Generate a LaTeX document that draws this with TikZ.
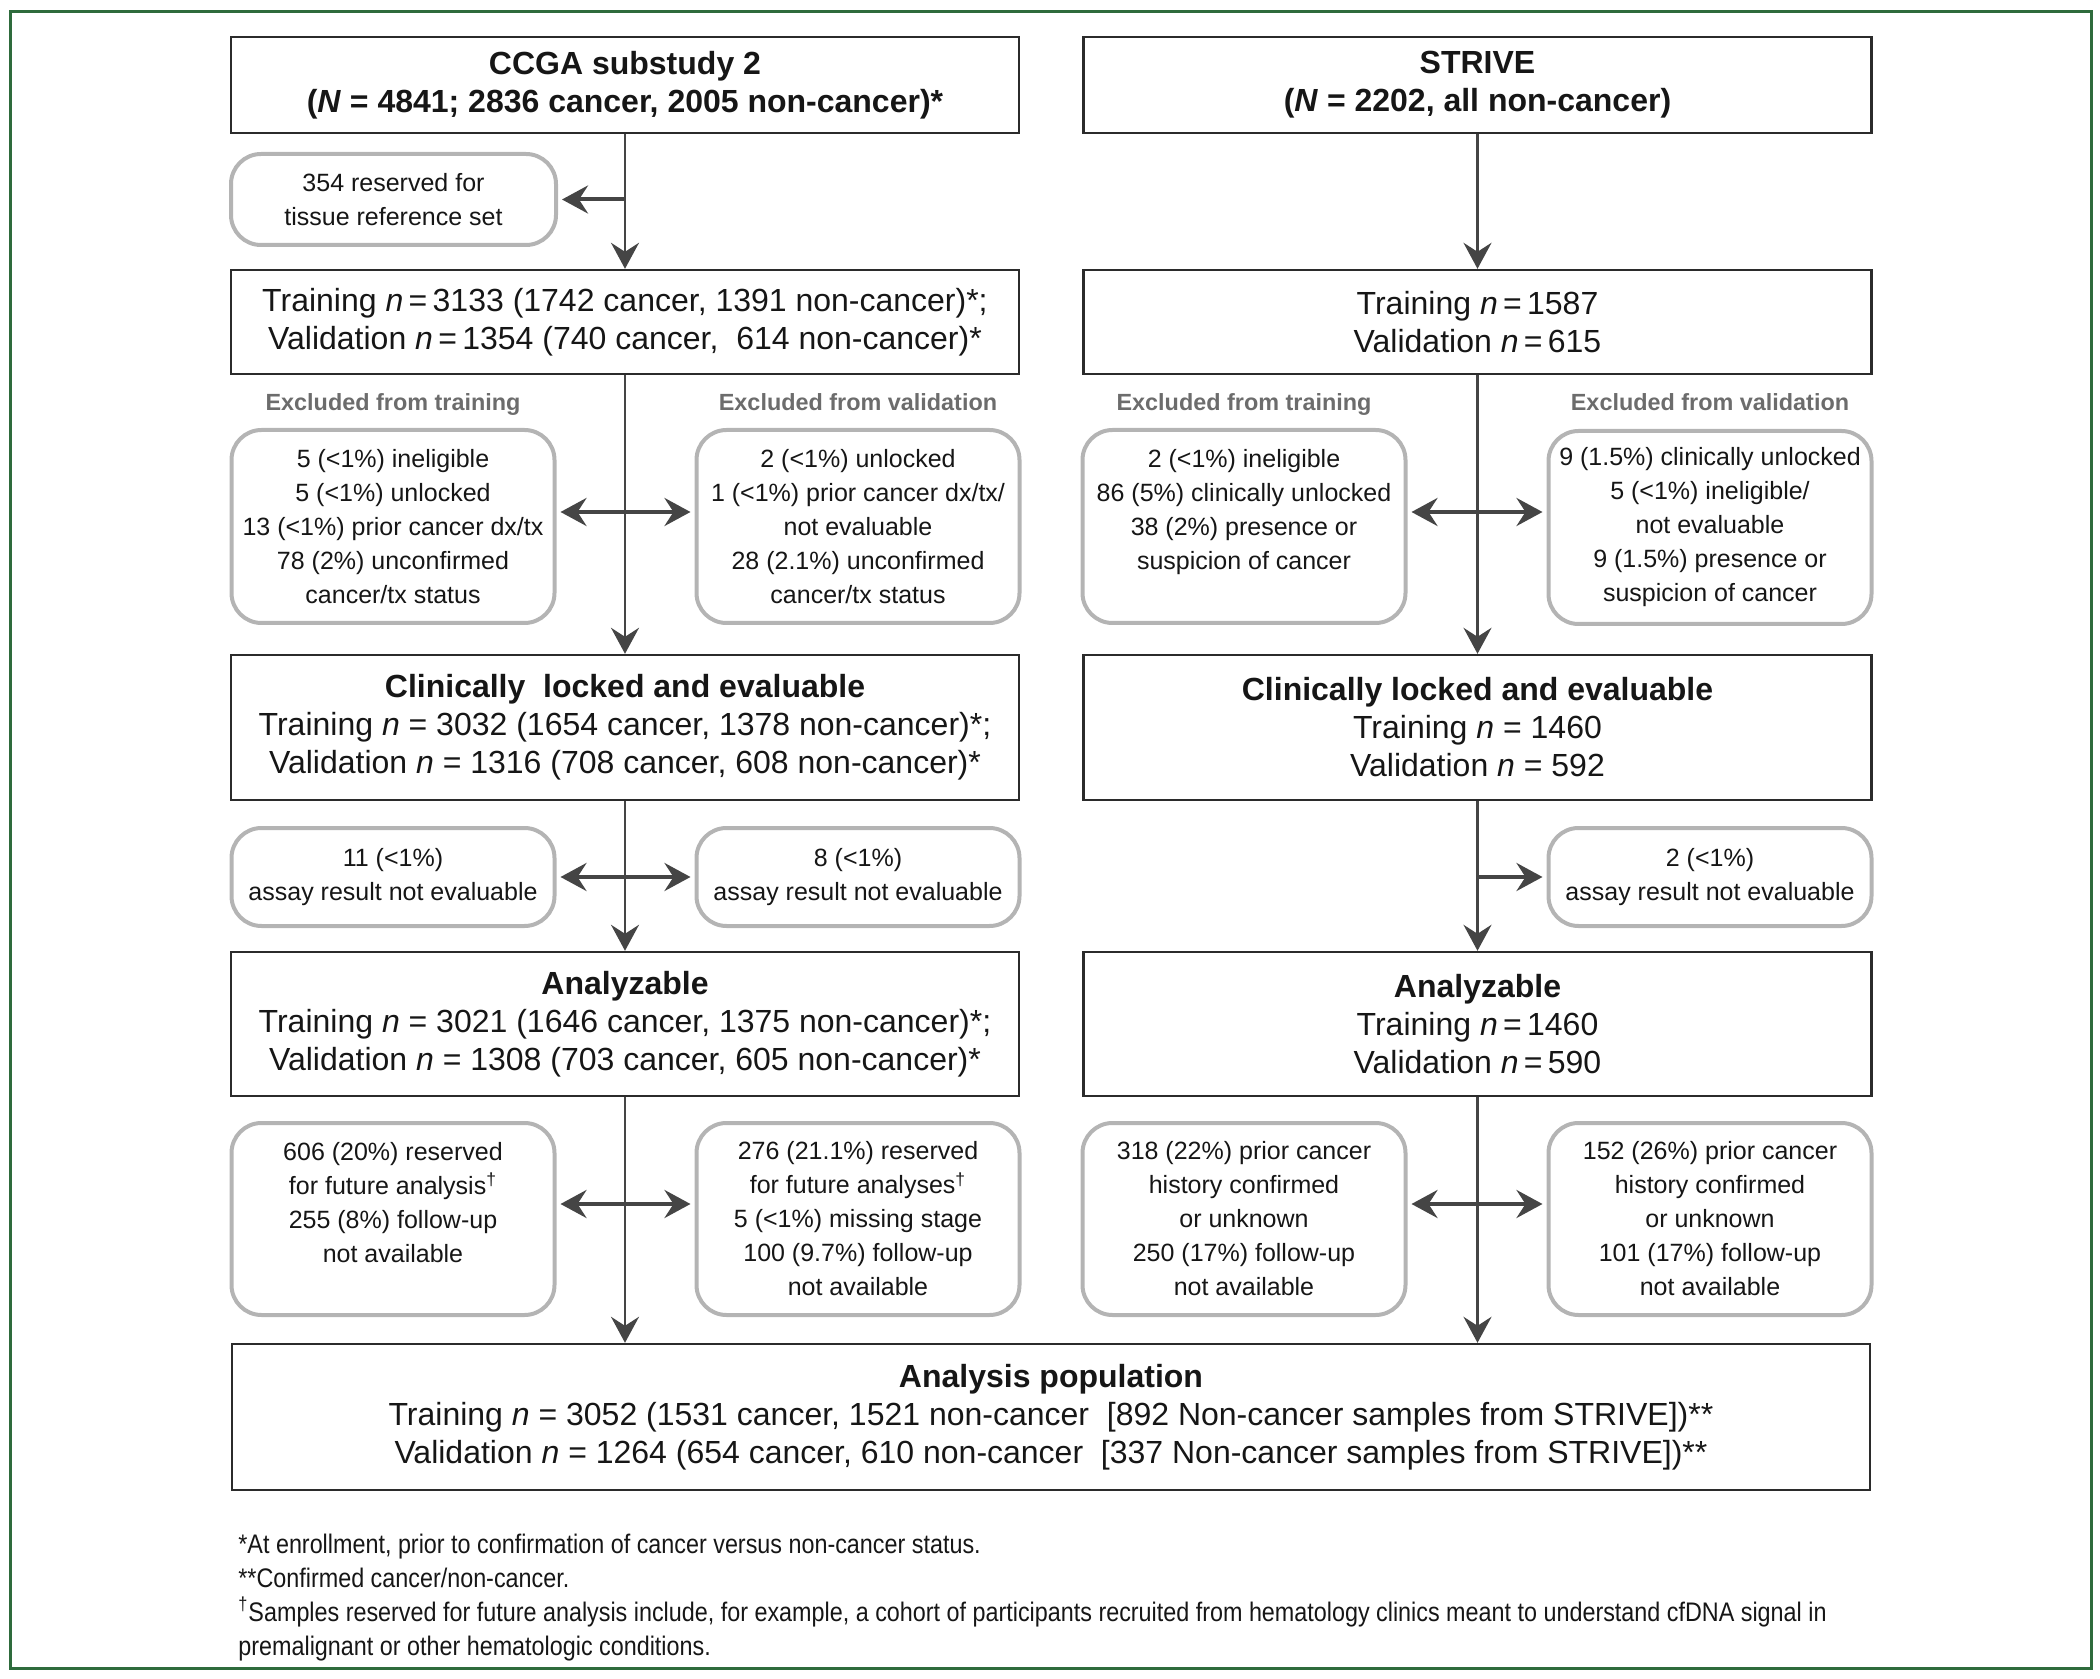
\documentclass[tikz,border=0pt]{standalone}
\usepackage{fontspec}
\setmainfont{Liberation Sans}
\newfontfamily\condfont{Liberation Sans}[FakeStretch=0.87]
\usetikzlibrary{arrows.meta}
\definecolor{boxc}{HTML}{2B2B2B}
\definecolor{arrc}{HTML}{454545}
\definecolor{exc}{HTML}{B4B4B4}
\definecolor{hdrc}{HTML}{6C6C6C}
\definecolor{framec}{HTML}{2E6B3C}
\definecolor{textc}{HTML}{161616}
\begin{document}
\begin{tikzpicture}[x=0.5pt,y=-0.5pt,
  mainbox/.style={draw=boxc, line width=1.2pt, fill=white, text=textc, align=center, inner sep=0pt, minimum width=394pt, font=\fontsize{16}{19}\selectfont},
  exbox/.style={draw=exc, line width=2pt, rounded corners=15pt, fill=white, text=textc, align=center, inner sep=0pt, minimum width=161.5pt, font=\fontsize{12.5}{17}\selectfont},
  hdr/.style={anchor=base, text=hdrc, font=\bfseries\fontsize{11.7}{14}\selectfont, inner sep=0pt},
  foot/.style={anchor=base west, text=textc, font=\condfont\fontsize{13.42}{17}\selectfont, inner sep=0pt},
  tipa/.tip={Stealth[length=13pt,width=14pt,inset=4.5pt]},
  vline/.style={draw=arrc, line width=1.3pt, -tipa},
  harr/.style={draw=arrc, line width=2pt, shorten >=2pt, -tipa},
  darr/.style={draw=arrc, line width=2pt, shorten >=2pt, shorten <=2pt, tipa-tipa},
]
\useasboundingbox (0,0) rectangle (2100,1679);
\draw[framec, line width=1.5pt] (10,12) rectangle (2091,1668);

% main boxes
\node[mainbox, minimum height=48pt] (ccga) at (625,85) {\textbf{CCGA substudy 2}\\ \textbf{(\textit{N} = 4841; 2836 cancer, 2005 non-cancer)*}};
\node[mainbox, minimum height=48pt] (strive) at (1477.5,85) {\textbf{STRIVE}\\ \textbf{(\textit{N} = 2202, all non-cancer)}};
\node[mainbox, minimum height=52pt] (ctrain) at (625,322) {Training \textit{n}\,=\,3133 (1742 cancer, 1391 non-cancer)*;\\ Validation \textit{n}\,=\,1354 (740 cancer,~ 614 non-cancer)*};
\node[mainbox, minimum height=52pt] (strain) at (1477.5,322) {Training \textit{n}\,=\,1587\\ Validation \textit{n}\,=\,615};
\node[mainbox, minimum height=72.5pt] (cclin) at (625,727.5) {\textbf{Clinically~ locked and evaluable}\\ Training \textit{n} = 3032 (1654 cancer, 1378 non-cancer)*;\\ Validation \textit{n} = 1316 (708 cancer, 608 non-cancer)*};
\node[mainbox, minimum height=72.5pt] (sclin) at (1477.5,727.5) {\textbf{Clinically locked and evaluable}\\ Training \textit{n} = 1460\\ Validation \textit{n} = 592};
\node[mainbox, minimum height=72pt] (cana) at (625,1024) {\textbf{Analyzable}\\ Training \textit{n} = 3021 (1646 cancer, 1375 non-cancer)*;\\ Validation \textit{n} = 1308 (703 cancer, 605 non-cancer)*};
\node[mainbox, minimum height=72pt] (sana) at (1477.5,1024) {\textbf{Analyzable}\\ Training \textit{n}\,=\,1460\\ Validation \textit{n}\,=\,590};
\node[mainbox, minimum height=73pt, minimum width=819pt] (final) at (1051,1417) {\textbf{Analysis population}\\ Training \textit{n} = 3052 (1531 cancer, 1521 non-cancer~ [892 Non-cancer samples from STRIVE])**\\ Validation \textit{n} = 1264 (654 cancer, 610 non-cancer~ [337 Non-cancer samples from STRIVE])**};

% exclusion boxes
\node[exbox, minimum width=162.5pt, minimum height=45.5pt] (reserved) at (393.5,199.5) {354 reserved for\\ tissue reference set};

\node[hdr] (h1) at (393,411) {Excluded from training};
\node[hdr] (h2) at (858,411) {Excluded from validation};
\node[hdr] (h3) at (1244,411) {Excluded from training};
\node[hdr] (h4) at (1710,411) {Excluded from validation};

\node[exbox, minimum height=96.5pt] (c1l) at (393,526.5) {5 (<1\%) ineligible\\ 5 (<1\%) unlocked\\ 13 (<1\%) prior cancer dx/tx\\ 78 (2\%) unconfirmed\\ cancer/tx status};
\node[exbox, minimum height=96.5pt] (c1r) at (858,526.5) {2 (<1\%) unlocked\\ 1 (<1\%) prior cancer dx/tx/\\ not evaluable\\ 28 (2.1\%) unconfirmed\\ cancer/tx status};
\node[exbox, minimum height=96.5pt] (s1l) at (1244,526.5) {2 (<1\%) ineligible\\ 86 (5\%) clinically unlocked\\ 38 (2\%) presence or\\ suspicion of cancer\\ \mbox{}};
\node[exbox, minimum height=96.5pt] (s1r) at (1710,527.5) {9 (1.5\%) clinically unlocked\\ 5 (<1\%) ineligible/\\ not evaluable\\ 9 (1.5\%) presence or\\ suspicion of cancer};

\node[exbox, minimum height=49pt] (c2l) at (393,877) {11 (<1\%)\\ assay result not evaluable};
\node[exbox, minimum height=49pt] (c2r) at (858,877) {8 (<1\%)\\ assay result not evaluable};
\node[exbox, minimum height=49pt] (s2r) at (1710,877) {2 (<1\%)\\ assay result not evaluable};

\node[exbox, minimum height=96pt] (c3l) at (393,1219) {606 (20\%) reserved\\ for future analysis\textsuperscript{†}\\ 255 (8\%) follow-up\\ not available\\ \mbox{}};
\node[exbox, minimum height=96pt] (c3r) at (858,1219) {276 (21.1\%) reserved\\ for future analyses\textsuperscript{†}\\ 5 (<1\%) missing stage\\ 100 (9.7\%) follow-up\\ not available};
\node[exbox, minimum height=96pt] (s3l) at (1244,1219) {318 (22\%) prior cancer\\ history confirmed\\ or unknown\\ 250 (17\%) follow-up\\ not available};
\node[exbox, minimum height=96pt] (s3r) at (1710,1219) {152 (26\%) prior cancer\\ history confirmed\\ or unknown\\ 101 (17\%) follow-up\\ not available};

% connectors
\draw[vline] (ccga) -- (ctrain);
\draw[harr] (ccga.south |- reserved.east) -- (reserved.east);
\draw[vline] (strive) -- (strain);
\draw[vline] (ctrain) -- (cclin);
\draw[darr] ([yshift=7.25pt]c1l.east) -- ([yshift=7.25pt]c1r.west);
\draw[vline] (strain) -- (sclin);
\draw[darr] ([yshift=7.25pt]s1l.east) -- ([yshift=7.25pt]s1l.east -| s1r.west);
\draw[vline] (cclin) -- (cana);
\draw[darr] (c2l) -- (c2r);
\draw[vline] (sclin) -- (sana);
\draw[harr] (sclin.south |- s2r.west) -- (s2r.west);
\draw[vline] (cana.south) -- (cana.south |- final.north);
\draw[darr] ([yshift=7.5pt]c3l.east) -- ([yshift=7.5pt]c3r.west);
\draw[vline] (sana.south) -- (sana.south |- final.north);
\draw[darr] ([yshift=7.5pt]s3l.east) -- ([yshift=7.5pt]s3r.west);

% footnotes
\node[foot] (f1) at (238,1553) {*At enrollment, prior to confirmation of cancer versus non-cancer status.};
\node[foot] (f2) at (238,1587) {**Confirmed cancer/non-cancer.};
\node[foot] (f3) at (238,1621) {\textsuperscript{†}Samples reserved for future analysis include, for example, a cohort of participants recruited from hematology clinics meant to understand cfDNA signal in};
\node[foot] (f4) at (238,1655) {premalignant or other hematologic conditions.};
\end{tikzpicture}
\end{document}
